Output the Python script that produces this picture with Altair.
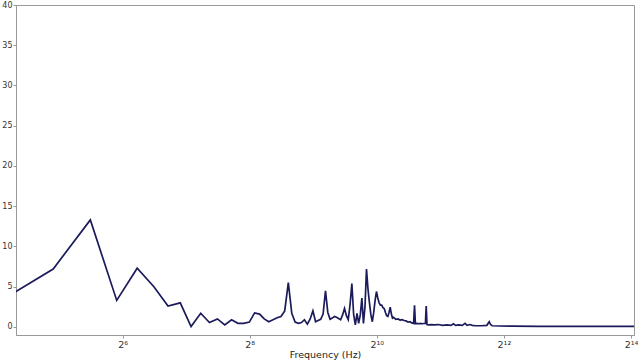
import altair as alt
import pandas as pd

# Spectrum magnitude (frequency in Hz, magnitude)
freq = [15, 30, 45, 60, 75, 90, 105, 120, 135, 150, 165, 180, 195, 210, 225, 240,
        255, 270, 285, 300, 315, 330, 345, 360, 375, 390, 405, 420, 435, 450, 465,
        480, 495, 510, 525, 540, 555, 570, 585, 600, 615, 630, 645, 660, 675, 690,
        705, 720, 735, 750, 765, 780, 795, 810, 825, 840, 855, 870, 885, 900, 915,
        930, 945, 960, 975, 990, 1005, 1020, 1035, 1050, 1065, 1080, 1095, 1110,
        1125, 1140, 1155, 1170, 1185, 1200, 1215, 1230, 1260, 1290, 1320, 1350,
        1380, 1410, 1440, 1470, 1500, 1530, 1545, 1560, 1590, 1620, 1650, 1680,
        1740, 1755, 1770, 1800, 1860, 1920, 2000, 2100, 2200, 2300, 2360, 2420,
        2500, 2600, 2680, 2740, 2830, 2900, 3000, 3200, 3400, 3490, 3540, 3600,
        3900, 4500, 6000, 8000, 12000, 16930]
mag = [2.4, 7.2, 13.3, 3.3, 7.3, 5.0, 2.6, 3.0, 0.05, 1.7, 0.55, 1.0, 0.25, 0.9, 0.45, 0.45,
       0.6, 1.75, 1.6, 1.0, 0.65, 0.9, 1.15, 1.3, 2.0, 5.5, 1.7, 0.6, 0.45, 0.55, 0.9,
       0.35, 1.0, 2.0, 0.65, 0.8, 0.95, 1.6, 4.5, 1.8, 0.95, 1.1, 1.3, 1.2, 1.05, 0.9,
       1.5, 2.3, 1.4, 0.9, 2.8, 5.4, 1.6, 0.25, 1.7, 0.45, 1.5, 3.6, 0.45, 2.5, 7.2,
       4.7, 3.0, 1.5, 0.65, 1.8, 3.3, 4.4, 3.6, 3.0, 2.7, 2.7, 2.4, 2.3,
       1.8, 1.4, 1.3, 1.8, 2.45, 1.6, 1.1, 1.2, 0.95, 1.0, 0.85, 0.9,
       0.8, 0.75, 0.6, 0.65, 0.5, 0.45, 2.7, 0.4, 0.45, 0.4, 0.45, 0.4,
       0.45, 2.6, 0.3, 0.25, 0.3, 0.25, 0.3, 0.2, 0.25, 0.2, 0.4, 0.2,
       0.25, 0.2, 0.45, 0.2, 0.3, 0.2, 0.15, 0.15, 0.2, 0.65, 0.3, 0.15,
       0.12, 0.1, 0.08, 0.08, 0.07, 0.07]

x_ticks = [64, 256, 1024, 4096, 16384]
x_tick_labels = ["2\u2076", "2\u2078", "2\u00b9\u2070", "2\u00b9\u00b2", "2\u00b9\u2074"]
y_ticks = [0, 5, 10, 15, 20, 25, 30, 35, 40]

df = pd.DataFrame({"freq": freq, "mag": mag})

label_expr = " : ".join(
    f"datum.value == {v} ? '{l}'" for v, l in zip(x_ticks, x_tick_labels)
) + " : ''"

chart = alt.Chart(df).mark_line(color="#1b1b5c", strokeWidth=1.7, clip=True).encode(
    x=alt.X("freq:Q",
            scale=alt.Scale(type="log", base=2, domain=[20, 16930], nice=False),
            axis=alt.Axis(values=x_ticks, labelExpr=label_expr, title="Frequency (Hz)",
                          grid=False, tickSize=3, labelFontSize=9.5, titleFontSize=9.5,
                          labelPadding=1, titlePadding=1, labelColor="#333",
                          titleColor="#222", titleFontWeight="normal",
                          domainColor="#999", tickColor="#999",
                          labelFont="DejaVu Sans", titleFont="DejaVu Sans")),
    y=alt.Y("mag:Q",
            scale=alt.Scale(domain=[-1, 40], nice=False, zero=False),
            axis=alt.Axis(values=y_ticks, title=None, grid=False, tickSize=3,
                          labelFontSize=8, labelPadding=1, labelColor="#333",
                          domainColor="#999", tickColor="#999",
                          labelFont="DejaVu Sans"))
).properties(
    width=618, height=330, autosize="none",
    padding={"left": 16, "top": 5, "right": 6, "bottom": 25}
).configure_view(stroke="#999", strokeWidth=1)

chart.save("out.html", embed_options={"renderer": "svg", "actions": False})
